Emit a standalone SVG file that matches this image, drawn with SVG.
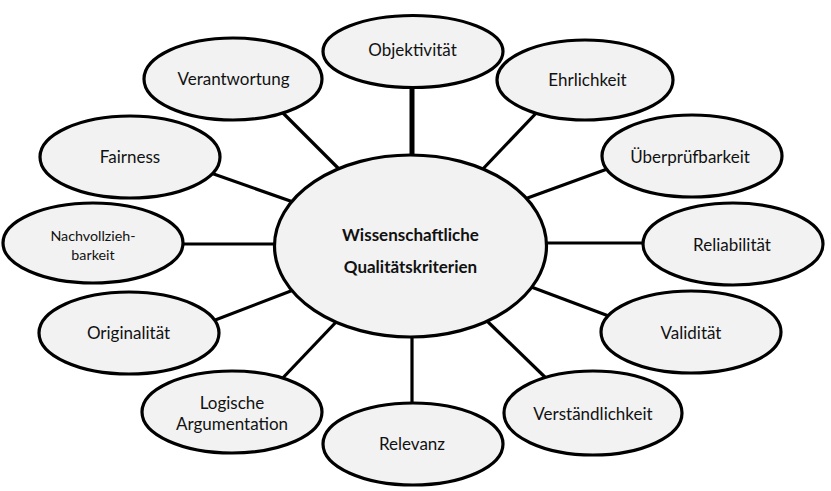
<svg xmlns="http://www.w3.org/2000/svg" width="831" height="491" viewBox="0 0 831 491">
<style>
.n{fill:#f2f2f2;stroke:#000;stroke-width:3.2}
.c{stroke:#000;stroke-width:3.2;fill:none}
text{font-family:Lato,"Open Sans","Liberation Sans",sans-serif;font-size:17px;fill:#111;text-anchor:middle}
.b{font-weight:bold;font-size:17px}
.s{font-size:14.3px}
</style>
<rect width="831" height="491" fill="#fff"/>
<g id="connectors">
<line class="c" x1="412" y1="85" x2="412" y2="160" style="stroke-width:5"/>
<line class="c" x1="541" y1="108" x2="480" y2="172"/>
<line class="c" x1="610" y1="168" x2="522" y2="200"/>
<line class="c" x1="646" y1="243" x2="543" y2="243"/>
<line class="c" x1="614" y1="318" x2="526" y2="285"/>
<line class="c" x1="550" y1="382" x2="486" y2="320"/>
<line class="c" x1="412" y1="332" x2="412" y2="406"/>
<line class="c" x1="278" y1="383" x2="338" y2="320"/>
<line class="c" x1="210" y1="322" x2="296" y2="289"/>
<line class="c" x1="180" y1="244" x2="278" y2="244"/>
<line class="c" x1="208" y1="172" x2="296" y2="203"/>
<line class="c" x1="278" y1="108" x2="342" y2="172"/>
</g>
<g id="center"><ellipse class="n" cx="410.5" cy="246" rx="136" ry="91"/><text class="b" x="410.5" y="241">Wissenschaftliche</text><text class="b" x="410.5" y="273">Qualitätskriterien</text></g>
<g id="objektivitaet"><ellipse class="n" cx="413" cy="51.5" rx="90" ry="36"/><text x="412.5" y="56">Objektivität</text></g>
<g id="ehrlichkeit"><ellipse class="n" cx="585" cy="80" rx="88" ry="40"/><text x="587.5" y="86">Ehrlichkeit</text></g>
<g id="ueberpruefbarkeit"><ellipse class="n" cx="692" cy="156" rx="90" ry="41"/><text x="690" y="163">Überprüfbarkeit</text></g>
<g id="reliabilitaet"><ellipse class="n" cx="733" cy="244" rx="90" ry="41"/><text x="732" y="251">Reliabilität</text></g>
<g id="validitaet"><ellipse class="n" cx="691" cy="332" rx="90" ry="41"/><text x="691" y="339">Validität</text></g>
<g id="verstaendlichkeit"><ellipse class="n" cx="593" cy="413" rx="89" ry="42"/><text x="593" y="420">Verständlichkeit</text></g>
<g id="relevanz"><ellipse class="n" cx="413" cy="444" rx="90" ry="41"/><text x="412" y="450">Relevanz</text></g>
<g id="logische-argumentation"><ellipse class="n" cx="232" cy="412" rx="90" ry="41"/><text x="232" y="409">Logische</text><text x="232" y="430">Argumentation</text></g>
<g id="originalitaet"><ellipse class="n" cx="129" cy="333" rx="90" ry="41"/><text x="128.5" y="339">Originalität</text></g>
<g id="nachvollziehbarkeit"><ellipse class="n" cx="93" cy="243" rx="90" ry="40"/><text class="s" x="93" y="241">Nachvollzieh-</text><text class="s" x="93" y="260">barkeit</text></g>
<g id="fairness"><ellipse class="n" cx="130" cy="157" rx="90" ry="41"/><text x="130" y="163">Fairness</text></g>
<g id="verantwortung"><ellipse class="n" cx="233" cy="79" rx="89" ry="41"/><text x="233.5" y="85">Verantwortung</text></g>
</svg>
